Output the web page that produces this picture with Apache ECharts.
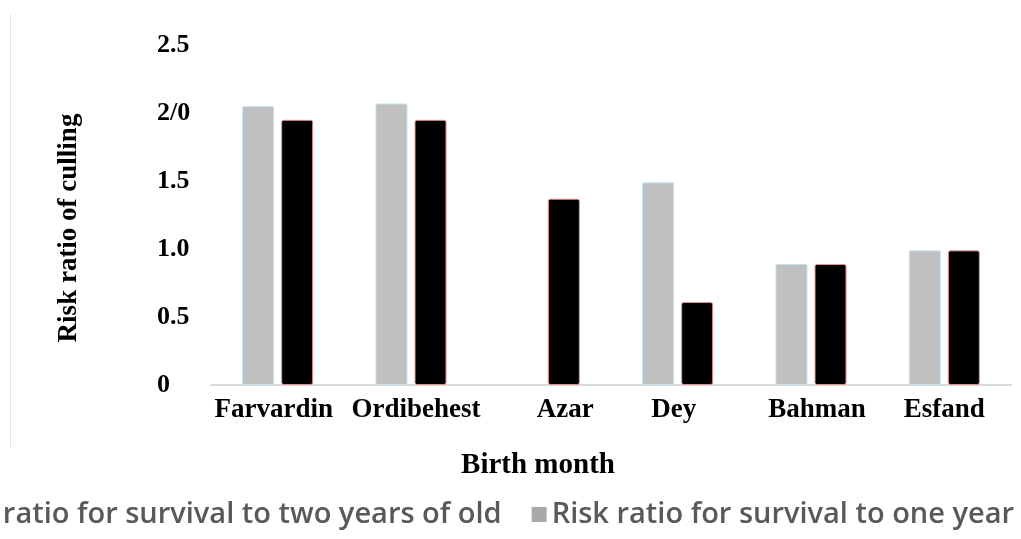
<!DOCTYPE html>
<html><head><meta charset="utf-8">
<script src="https://cdn.jsdelivr.net/npm/echarts@6/dist/echarts.min.js"></script>
<style>html,body{margin:0;padding:0;background:#fff}#c{width:1021px;height:539px}</style>
</head><body><div id="c"></div>
<script>
const categories = ['Farvardin', 'Ordibehest', 'Azar', 'Dey', 'Bahman', 'Esfand'];
const oneYear = [2.05, 2.07, null, 1.49, 0.89, 0.99];
const twoYears = [1.95, 1.95, 1.37, 0.61, 0.89, 0.99];
const yTickValues = [0, 0.5, 1, 1.5, 2, 2.5];
const yTickLabels = ['0', '0.5', '1.0', '1.5', '2/0', '2.5'];
const seriesNames = ['Risk ratio for survival to one year of old', 'Risk ratio for survival to two years of old'];
const axisTitles = ['Birth month', 'Risk ratio of culling'];
// small horizontal nudges of category labels, as placed in the original
const labelShift = [-4, 5, 21, -4, 6, 0];

const chart = echarts.init(document.getElementById('c'), null, {renderer: 'canvas'});
const serif = '"Liberation Serif", "Times New Roman", serif';
chart.setOption({
  animation: false,
  backgroundColor: '#ffffff',
  grid: {left: 211, right: 10, top: 45, bottom: 154, containLabel: false},
  graphic: [{
    type: 'line', shape: {x1: 10.5, y1: 14, x2: 10.5, y2: 447},
    style: {stroke: '#e4e4e4', lineWidth: 1}
  }],
  legend: {
    data: [
      {name: seriesNames[1], itemStyle: {color: '#000000', borderWidth: 0}},
      {name: seriesNames[0], itemStyle: {color: '#aaa8a8', borderWidth: 0}}
    ],
    left: -87, top: 495, width: 1400, orient: 'horizontal',
    icon: 'rect', itemWidth: 15, itemHeight: 15, itemGap: 30,
    textStyle: {fontFamily: '"Open Sans", sans-serif', fontWeight: 600, fontSize: 29, color: '#595959'}
  },
  xAxis: {
    type: 'category',
    data: categories.map((c, i) => ({
      value: c,
      textStyle: {padding: labelShift[i] >= 0 ? [0, 0, 0, 2 * labelShift[i]] : [0, -2 * labelShift[i], 0, 0]}
    })),
    name: axisTitles[0], nameLocation: 'middle', nameGap: 66,
    nameTextStyle: {fontFamily: serif, fontWeight: 'bold', fontSize: 29, color: '#000', padding: [0, 146, 0, 0]},
    axisLine: {lineStyle: {color: '#d9d9d9', width: 2}},
    axisTick: {show: false},
    axisLabel: {fontFamily: serif, fontWeight: 'bold', fontSize: 27, color: '#000', margin: 12, interval: 0}
  },
  yAxis: {
    type: 'value', min: 0, max: 2.5, interval: 0.5,
    name: axisTitles[1], nameLocation: 'middle', nameGap: 128, nameRotate: 90,
    nameTextStyle: {fontFamily: serif, fontWeight: 'bold', fontSize: 27, color: '#000', padding: [0, 26, 0, 0]},
    axisLine: {show: false}, axisTick: {show: false}, splitLine: {show: false},
    axisLabel: {
      fontFamily: serif, fontWeight: 'bold', fontSize: 26, color: '#000',
      align: 'left', margin: 54,
      formatter: v => yTickLabels[yTickValues.indexOf(Math.round(v * 2) / 2)]
    }
  },
  series: [{
    name: seriesNames[0], type: 'bar', data: oneYear,
    barWidth: 32, barGap: '22%',
    itemStyle: {color: '#c0c0c0', borderColor: '#bfe3ef', borderWidth: 1, borderRadius: 1}
  }, {
    name: seriesNames[1], type: 'bar', data: twoYears,
    barWidth: 32,
    itemStyle: {color: '#000000', borderColor: '#e89090', borderWidth: 1, borderRadius: 2}
  }],
  color: ['#a8a6a6', '#000000']
});
</script>
</body></html>
